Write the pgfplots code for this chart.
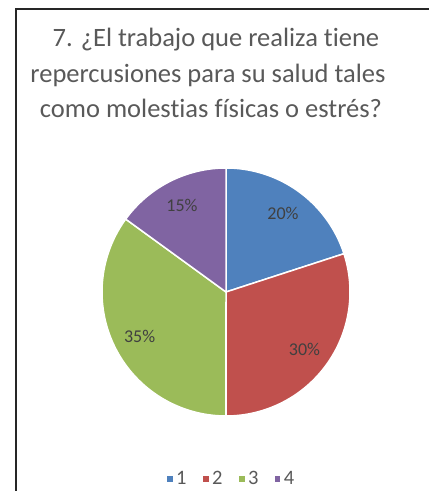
\documentclass[border=0pt]{standalone}
\usepackage{pgfplots}
\pgfplotsset{compat=1.18}
\usepackage{pgfplotstable}
\usepackage{fontspec}
\setmainfont[Ligatures={NoCommon}]{Carlito}
\definecolor{c1}{HTML}{4F81BD}
\definecolor{c2}{HTML}{C0504D}
\definecolor{c3}{HTML}{9BBB59}
\definecolor{c4}{HTML}{8064A2}
\definecolor{titlegray}{HTML}{595959}
\definecolor{labgray}{HTML}{404040}
\pgfplotstableread{
k value
1 20
2 30
3 35
4 15
}\piedata
\pgfplotstablecreatecol[create col/expr accum={\pgfmathaccuma+\thisrow{value}}{0}]{cum}\piedata
\pgfplotstablecreatecol[create col/expr={90-3.6*(\thisrow{cum}-0.5*\thisrow{value})}]{mid}\piedata
\def\Azero{90}
\pgfplotstablegetelem{0}{cum}\of\piedata \pgfmathsetmacro\Aone{90-3.6*\pgfplotsretval}
\pgfplotstablegetelem{1}{cum}\of\piedata \pgfmathsetmacro\Atwo{90-3.6*\pgfplotsretval}
\pgfplotstablegetelem{2}{cum}\of\piedata \pgfmathsetmacro\Athree{90-3.6*\pgfplotsretval}
\pgfplotstablegetelem{3}{cum}\of\piedata \pgfmathsetmacro\Afour{90-3.6*\pgfplotsretval}
\def\cx{226}
\def\cy{199}
\def\rr{124}
\begin{document}
\begin{tikzpicture}
\begin{axis}[
  scale only axis, width=429pt, height=491pt,
  xmin=0, xmax=429, ymin=0, ymax=491,
  hide axis, clip=false,
  legend style={at={(axis cs:231,12)}, anchor=center, draw=none, fill=none,
    legend columns=-1, font=\fontsize{20.5}{22}\selectfont, text=titlegray,
    /tikz/every even column/.append style={column sep=13pt},
    inner sep=0pt},
  legend image code/.code={\fill[#1] (0pt,-3.5pt) rectangle (7pt,3.5pt);},
]
\addplot[fill=c1, draw=white, line width=1.5pt, domain=\Aone:\Azero, samples=60, variable=\t]
  ({\cx+\rr*cos(\t)},{\cy+\rr*sin(\t)}) -- (axis cs:\cx,\cy) -- cycle;
\addlegendentry{1}
\addplot[fill=c2, draw=white, line width=1.5pt, domain=\Atwo:\Aone, samples=60, variable=\t]
  ({\cx+\rr*cos(\t)},{\cy+\rr*sin(\t)}) -- (axis cs:\cx,\cy) -- cycle;
\addlegendentry{2}
\addplot[fill=c3, draw=white, line width=1.5pt, domain=\Athree:\Atwo, samples=60, variable=\t]
  ({\cx+\rr*cos(\t)},{\cy+\rr*sin(\t)}) -- (axis cs:\cx,\cy) -- cycle;
\addlegendentry{3}
\addplot[fill=c4, draw=white, line width=1.5pt, domain=\Afour:\Athree, samples=60, variable=\t]
  ({\cx+\rr*cos(\t)},{\cy+\rr*sin(\t)}) -- (axis cs:\cx,\cy) -- cycle;
\addlegendentry{4}
\addplot[forget plot, draw=none, mark=none, point meta=explicit,
  nodes near coords={\pgfmathprintnumber[assume math mode=true]{\pgfplotspointmeta}\%},
  every node near coord/.append style={anchor=center, text=labgray, font=\fontsize{18}{20}\selectfont}]
  table[x expr={\cx+97*cos(\thisrow{mid})}, y expr={\cy+97*sin(\thisrow{mid})}, meta=value] {\piedata};
\node[anchor=base, text=titlegray, font=\fontsize{26.5}{30}\selectfont] at (axis cs:216,444) {7. ¿El trabajo que realiza tiene};
\node[anchor=base, text=titlegray, font=\fontsize{26.5}{30}\selectfont] at (axis cs:208,408) {repercusiones para su salud tales};
\node[anchor=base, text=titlegray, font=\fontsize{26.5}{30}\selectfont] at (axis cs:211,373) {como molestias físicas o estrés?};
\draw[line width=2pt, black!85] (axis cs:16,0) -- (axis cs:16,482) -- (axis cs:429,482);
\end{axis}
\pgfresetboundingbox
\path (current axis.south west) rectangle (current axis.north east);
\end{tikzpicture}
\end{document}
